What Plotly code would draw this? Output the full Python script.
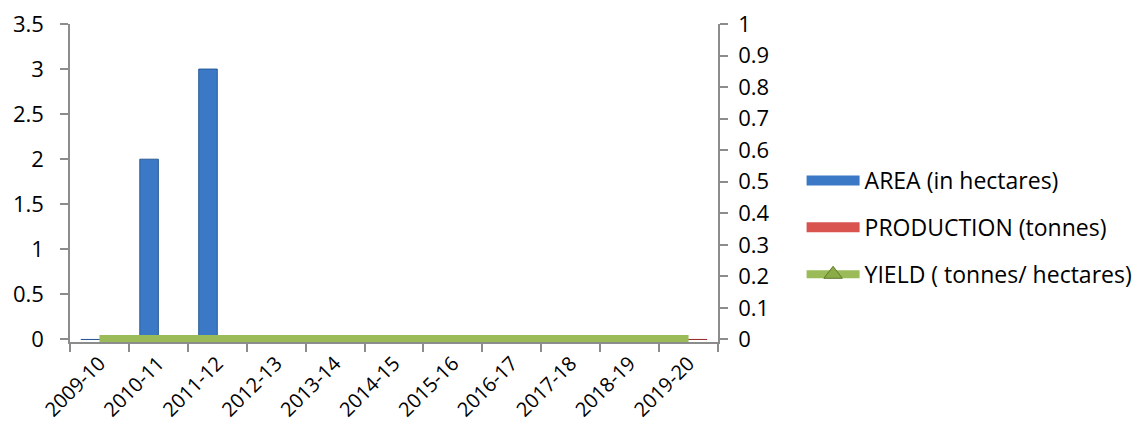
import plotly.graph_objects as go

seasons = ["2009-10", "2010-11", "2011-12", "2012-13", "2013-14", "2014-15",
           "2015-16", "2016-17", "2017-18", "2018-19", "2019-20"]
area_ha = [0, 2, 3, 0, 0, 0, 0, 0, 0, 0, 0]
production_t = [0, 0, 0, 0, 0, 0, 0, 0, 0, 0, 0]
yield_t_per_ha = [0, 0, 0, 0, 0, 0, 0, 0, 0, 0, 0]

FONT = "'Open Sans', Lato, sans-serif"
AXIS_GREY = "#8c8c8c"
BLUE, BLUE_EDGE = "#3b79c6", "#2a5b97"
RED, RED_EDGE = "#d9534f", "#9b2f2c"
GREEN = "#9bbb59"

# small pad below zero so the thick yield line is not cut in half by the plot edge
Y_MAX, Y2_MAX = 3.5, 1.0
PAD = 0.028

fig = go.Figure()

fig.add_trace(go.Bar(
    x=seasons, y=area_ha, name="AREA (in hectares)",
    marker=dict(color=BLUE, line=dict(color=BLUE_EDGE, width=1)),
    yaxis="y", showlegend=False,
))
fig.add_trace(go.Bar(
    x=seasons, y=production_t, name="PRODUCTION (tonnes)",
    marker=dict(color=RED, line=dict(color=RED_EDGE, width=1)),
    yaxis="y", showlegend=False,
))
fig.add_trace(go.Scatter(
    x=seasons, y=yield_t_per_ha, name="YIELD ( tonnes/ hectares)",
    mode="lines", line=dict(color=GREEN, width=9),
    yaxis="y2", showlegend=False,
))

# legend keys: wide bar swatches and the yield line with its triangle marker
fig.add_trace(go.Scatter(
    x=[None], y=[None], name="AREA (in hectares)", legendgroup="a",
    mode="lines", line=dict(color=BLUE, width=14), yaxis="y2",
))
fig.add_trace(go.Scatter(
    x=[None], y=[None], name="PRODUCTION (tonnes)", legendgroup="p",
    mode="lines", line=dict(color=RED, width=14), yaxis="y2",
))
fig.add_trace(go.Scatter(
    x=[None], y=[None], name="YIELD ( tonnes/ hectares)", legendgroup="y",
    mode="lines+markers",
    line=dict(color=GREEN, width=8),
    marker=dict(symbol="triangle-up", size=18, color="#8aab46",
                line=dict(color="#5e7a2a", width=1)),
    yaxis="y2",
))

fig.update_layout(
    width=1139, height=436,
    margin=dict(l=70, r=421, t=24, b=94, autoexpand=False),
    paper_bgcolor="white", plot_bgcolor="white",
    font=dict(family=FONT, size=20, color="#000000"),
    barmode="group", bargap=0.37, bargroupgap=0,
    showlegend=True,
    legend=dict(
        x=1.129, y=0.36, xanchor="left", yanchor="middle",
        xref="paper", yref="paper",
        font=dict(family=FONT, size=23, color="#000000"),
        itemwidth=53, tracegroupgap=14, bgcolor="rgba(0,0,0,0)",
        traceorder="grouped",
    ),
    xaxis=dict(
        type="category", range=[-0.5, 10.5],
        showline=True, linecolor=AXIS_GREY, linewidth=1.5,
        ticks="outside", tickson="boundaries", ticklen=8,
        tickcolor=AXIS_GREY, tickwidth=1.5,
        tickangle=-45, tickfont=dict(family=FONT, size=20),
        showgrid=False, zeroline=False, automargin=False,
    ),
    yaxis=dict(
        range=[-PAD, Y_MAX], tick0=0, dtick=0.5,
        showline=True, linecolor=AXIS_GREY, linewidth=1.5,
        ticks="outside", ticklen=8, tickcolor=AXIS_GREY, tickwidth=1.5,
        ticklabelstandoff=12,
        showgrid=False, zeroline=False, automargin=False,
        tickfont=dict(family=FONT, size=22),
    ),
    yaxis2=dict(
        range=[-PAD * Y2_MAX / Y_MAX, Y2_MAX], tick0=0, dtick=0.1,
        overlaying="y", side="right",
        showline=True, linecolor=AXIS_GREY, linewidth=1.5,
        ticks="outside", ticklen=8, tickcolor=AXIS_GREY, tickwidth=1.5,
        ticklabelstandoff=6,
        showgrid=False, zeroline=False, automargin=False,
        tickfont=dict(family=FONT, size=22),
    ),
)

fig.write_html("out.html")
